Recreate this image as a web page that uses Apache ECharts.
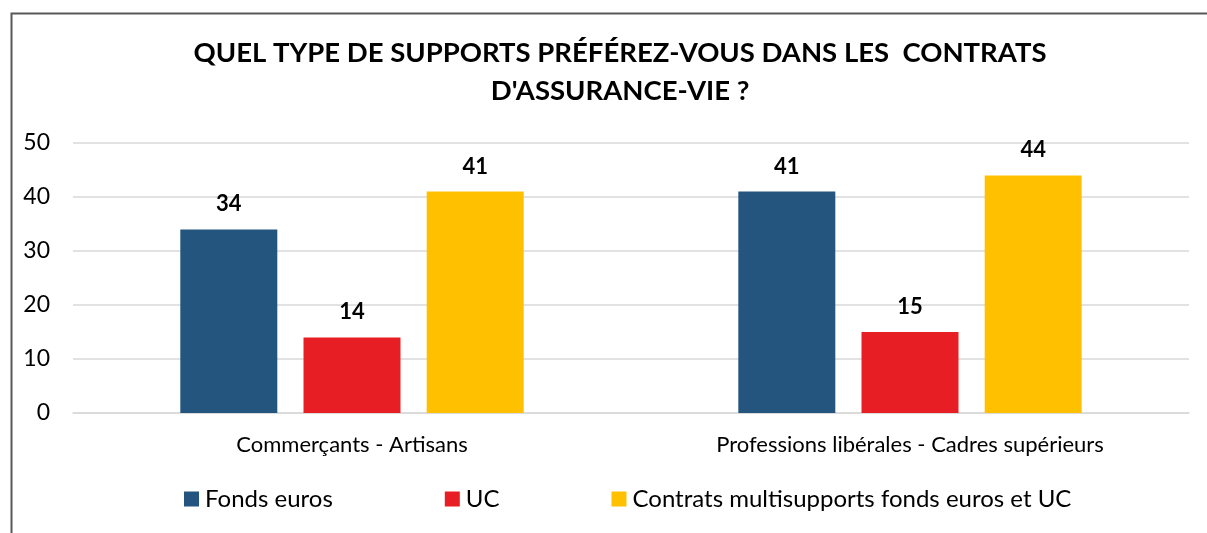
<!DOCTYPE html>
<html>
<head>
<meta charset="utf-8">
<script src="https://cdn.jsdelivr.net/npm/echarts@6/dist/echarts.min.js"></script>
<style>
  html, body { margin: 0; padding: 0; background: #fff; }
  #chart { width: 1207px; height: 533px; }
</style>
</head>
<body>
<div id="chart"></div>
<script>
	'use strict';

	/******data*****/
	var categories = ['Commerçants - Artisans', 'Professions libérales - Cadres supérieurs'];
	var seriesNames = ['Fonds euros', 'UC', 'Contrats multisupports fonds euros et UC'];
	var fondsEuros = [34, 41];
	var uc = [14, 15];
	var multisupports = [41, 44];
	var colors = ['#23557f', '#e81e25', '#ffc000'];

	var font = 'Lato';

	function barSeries(name, data) {
		return {
			name: name,
			type: 'bar',
			barWidth: 97,
			barGap: '27%',
			data: data,
			label: {
				show: true,
				position: 'top',
				distance: 14,
				fontFamily: font,
				fontWeight: 'bold',
				fontSize: 22,
				color: '#000'
			}
		};
	}

	var option = {
		color: colors,
		animation: false,
		title: {
			text: 'QUEL TYPE DE SUPPORTS PRÉFÉREZ-VOUS DANS LES  CONTRATS\nD\'ASSURANCE-VIE ?',
			left: 615,
			top: 29,
			textAlign: 'center',
			textStyle: {
				fontFamily: font,
				fontWeight: 'bold',
				fontSize: 27.5,
				lineHeight: 38,
				color: '#000'
			}
		},
		legend: {
			left: 184,
			top: 487,
			padding: 0,
			icon: 'rect',
			itemWidth: 15,
			itemHeight: 15,
			itemGap: 112,
			textStyle: {
				fontFamily: font,
				fontSize: 24,
				color: '#000',
				padding: [0, 0, 0, 1]
			},
			data: seriesNames
		},
		grid: {
			top: 143,
			right: 18,
			bottom: 120,
			left: 73,
			containLabel: false
		},
		xAxis: {
			type: 'category',
			data: categories,
			axisTick: { show: false },
			axisLine: {
				lineStyle: { color: '#d9d9d9', width: 1.5 }
			},
			axisLabel: {
				fontFamily: font,
				fontSize: 22,
				color: '#000',
				margin: 21
			}
		},
		yAxis: {
			type: 'value',
			min: 0,
			max: 50,
			interval: 10,
			axisLine: { show: false },
			axisTick: { show: false },
			splitLine: {
				lineStyle: { color: '#d9d9d9', width: 1.5 }
			},
			axisLabel: {
				fontFamily: font,
				fontSize: 23,
				color: '#000',
				margin: 23
			}
		},
		graphic: [{
			type: 'rect',
			left: 9,
			top: 11,
			shape: { width: 1230, height: 600 },
			style: { fill: 'none', stroke: '#595959', lineWidth: 2 },
			silent: true
		}],
		series: [
			barSeries(seriesNames[0], fondsEuros),
			barSeries(seriesNames[1], uc),
			barSeries(seriesNames[2], multisupports)
		]
	};

	var chart = echarts.init(document.getElementById('chart'));
	chart.setOption(option);
</script>
</body>
</html>
